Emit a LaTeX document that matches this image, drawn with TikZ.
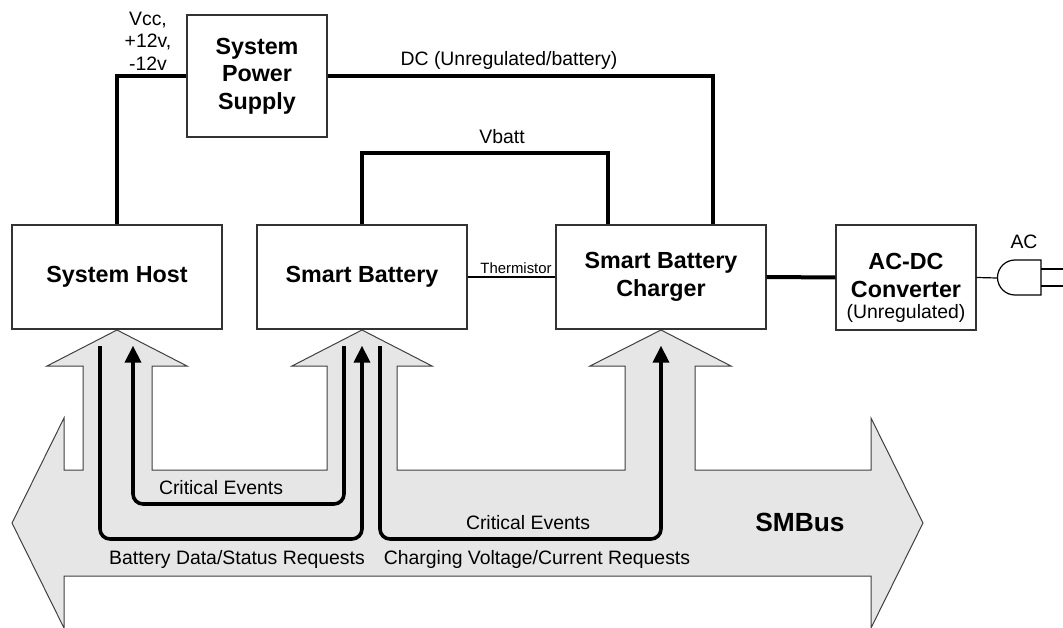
\documentclass[tikz,border=0pt]{standalone}
\usepackage{fontspec}
\setmainfont{Liberation Sans}
\usetikzlibrary{arrows.meta}
\definecolor{edgec}{HTML}{333333}
\definecolor{busfill}{HTML}{E6E6E6}
\definecolor{busline}{HTML}{404040}
\newcommand\bxfont{\fontsize{23.3}{27.5}\selectfont\bfseries}
\newcommand\rgfont{\fontsize{19.4}{22.5}\selectfont}
\newcommand\smfont{\fontsize{14.9}{17}\selectfont}
\newcommand\busfont{\fontsize{26.3}{30}\selectfont\bfseries}
\begin{document}
\begin{tikzpicture}[x=1pt,y=-1pt,
  box/.style={draw=edgec, line width=1.3pt, fill=white, inner sep=0pt, align=center, font=\bxfont},
  power/.style={line width=4pt, line cap=butt},
  thinline/.style={draw=black, line width=1.2pt},
  sig/.style={line width=3.6pt, rounded corners=10pt, -{Triangle[width=16pt,length=17pt]}},
  lbl/.style={inner sep=0pt, font=\rgfont, anchor=base},
  bus/.style={draw=busline, line width=1pt, fill=busfill, line join=miter}]
\useasboundingbox (0,0) rectangle (1063,628);

% SMBus big arrow
\draw[bus] (12,523) -- (64,418) -- (64,470) -- (83,470) -- (83,366) -- (47,366) -- (117,330)
  -- (187,366) -- (152,366) -- (152,470) -- (327,470) -- (327,366) -- (292,366) -- (362,330)
  -- (432,366) -- (397,366) -- (397,470) -- (625,470) -- (625,366) -- (590,366) -- (661,330)
  -- (731,366) -- (695,366) -- (695,470) -- (871,470) -- (871,418) -- (923,523) -- (871,628)
  -- (871,576) -- (64,576) -- (64,628) -- cycle;
\node[inner sep=0pt, font=\busfont, anchor=base] (smbus) at (800,531) {SMBus};

% boxes
\node[box, minimum width=140, minimum height=122] (sps) at (257,76) {System\\Power\\Supply};
\node[box, minimum width=210, minimum height=104] (host) at (117,277) {System Host};
\node[box, minimum width=210, minimum height=104] (batt) at (362,277) {Smart Battery};
\node[box, minimum width=210, minimum height=104] (chg) at (661,277) {Smart Battery\\Charger};
\node[box, minimum width=140, minimum height=105] (acdc) at (906,277.5) {};
\node[inner sep=0pt, align=center, font=\bxfont] (acdct) at (906,288) {AC-DC\\Converter\\[-6pt]{\rgfont\mdseries (Unregulated)}};

% power lines
\draw[power] (sps.west) -| (host.north);
\draw[power] (sps.east) -| ([xshift=52pt]chg.north);
\draw[power] (batt.north) -- ++(0,-71) -| ([xshift=-53pt]chg.north);
\draw[power] (chg.east) -- (acdc.west);
\draw[thinline] (batt.east) -- (chg.west);

% labels
\node[inner sep=0pt, align=center, font=\rgfont] (vcc) at (148,41) {Vcc,\\+12v,\\-12v};
\node[lbl] (dc) at (509,66) {DC (Unregulated/battery)};
\node[lbl] (vbatt) at (502,144) {Vbatt};
\node[lbl, font=\smfont] (therm) at (516,274) {Thermistor};
\node[lbl] (ac) at (1024,249) {AC};

% plug
\coordinate (plug) at (997,278);
\draw[thinline] (acdc.east) -- (plug);
\draw[thinline] (1041,260) -- (1015,260) arc[start angle=270, end angle=90, radius=17.5] -- (1041,295) -- cycle;
\draw[thinline] (1041,269) -- (1070,269);
\draw[thinline] (1041,286) -- (1070,286);

% signal paths
\coordinate (a0) at (100,346);
\coordinate (b0) at (344,346);
\coordinate (c0) at (380,346);
\draw[sig] (a0) -- (100,539) -- (362,539) -- ([yshift=-16pt]batt.south);
\draw[sig] (b0) -- (344,504) -- (133,504) -- ([xshift=16pt,yshift=-16pt]host.south);
\draw[sig] (c0) -- (380,539) -- (661,539) -- ([yshift=-16pt]chg.south);

\node[lbl] (ce1) at (221,494) {Critical Events};
\node[lbl] (bds) at (237,564) {Battery Data/Status Requests};
\node[lbl] (ce2) at (528,529) {Critical Events};
\node[lbl] (cvc) at (537,564) {Charging Voltage/Current Requests};
\end{tikzpicture}
\end{document}
